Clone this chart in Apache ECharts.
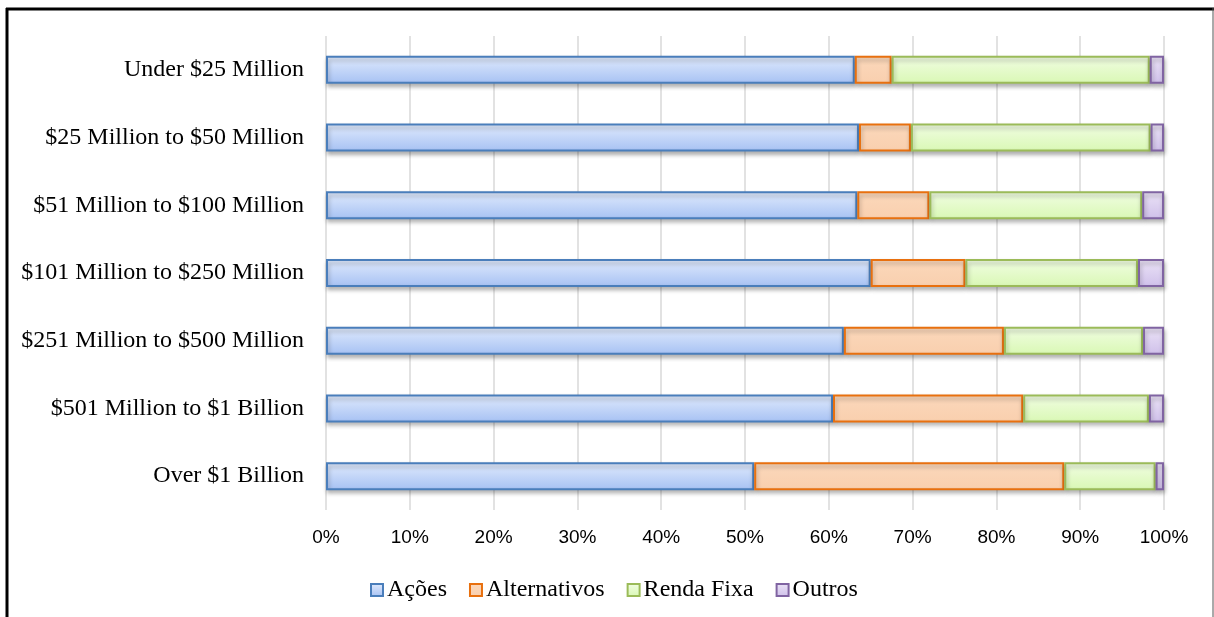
<!DOCTYPE html>
<html>
<head>
<meta charset="utf-8">
<script src="https://cdn.jsdelivr.net/npm/echarts@6/dist/echarts.min.js"></script>
<style>
html,body{margin:0;padding:0;background:#fff;}
#chart{width:1214px;height:617px;}
</style>
</head>
<body>
<div id="chart"></div>
<script>
const categories = [
  'Under $25 Million',
  '$25 Million to $50 Million',
  '$51 Million to $100 Million',
  '$101 Million to $250 Million',
  '$251 Million to $500 Million',
  '$501 Million to $1 Billion',
  'Over $1 Billion'
];
const acoes        = [63.1, 63.6, 63.4, 65.0, 61.8, 60.5, 51.1];
const alternativos = [4.4, 6.2, 8.6, 11.3, 19.1, 22.7, 37.0];
const rendaFixa    = [30.8, 28.6, 25.4, 20.6, 16.6, 15.0, 10.9];
const outros       = [1.7, 1.6, 2.6, 3.1, 2.5, 1.8, 1.0];
const xTicks = [0, 10, 20, 30, 40, 50, 60, 70, 80, 90, 100];

const serif = '"Liberation Serif", "Times New Roman", serif';
const sans = '"Liberation Sans", Arial, sans-serif';

function grad(top, bottom) {
  return new echarts.graphic.LinearGradient(0, 0, 0, 1, [
    {offset: 0, color: top}, {offset: 1, color: bottom}
  ]);
}
function mk(name, data, fillTop, fillBottom, border) {
  return {
    name: name,
    type: 'bar',
    stack: 'total',
    data: data,
    barWidth: 28,
    itemStyle: {
      color: grad(fillTop, fillBottom),
      borderColor: border,
      borderWidth: 2,
      shadowColor: 'rgba(0,0,0,0.28)',
      shadowBlur: 4,
      shadowOffsetX: 1,
      shadowOffsetY: 3
    },
    emphasis: {disabled: true}
  };
}

const chart = echarts.init(document.getElementById('chart'), null, {renderer: 'canvas'});
chart.setOption({
  animation: false,
  backgroundColor: '#fff',
  graphic: [
    {type: 'line', shape: {x1: 7, y1: 8, x2: 7, y2: 620}, style: {stroke: '#000', lineWidth: 3}, z: 100},
    {type: 'line', shape: {x1: 6, y1: 9, x2: 1214, y2: 9}, style: {stroke: '#000', lineWidth: 3}, z: 100},
    {type: 'line', shape: {x1: 1213, y1: 8, x2: 1213, y2: 620}, style: {stroke: '#555', lineWidth: 1}, z: 100}
  ],
  grid: {left: 326, right: 50, top: 36, bottom: 107, containLabel: false},
  legend: {
    left: 365,
    top: 573,
    icon: 'rect',
    itemWidth: 12,
    itemHeight: 12,
    itemGap: 22,
    textStyle: {fontFamily: serif, fontSize: 24, color: '#000', padding: [0, 0, 0, -1]},
    data: ['Ações', 'Alternativos', 'Renda Fixa', 'Outros']
  },
  xAxis: {
    type: 'value',
    min: 0, max: 100, interval: 10,
    axisLine: {show: false},
    axisTick: {show: false},
    splitLine: {show: true, lineStyle: {color: '#d9d9d9', width: 1.5}},
    axisLabel: {
      margin: 18,
      fontFamily: sans, fontSize: 19, color: '#000',
      formatter: function (v) { return xTicks.indexOf(v) >= 0 ? v + '%' : ''; }
    }
  },
  yAxis: {
    type: 'category',
    data: categories,
    inverse: true,
    axisLine: {show: false},
    axisTick: {show: false},
    axisLabel: {margin: 22, fontFamily: serif, fontSize: 24, color: '#000'}
  },
  series: [
    mk('Ações', acoes, '#e1ebfd', '#a6c1f3', '#4a7ebb'),
    mk('Alternativos', alternativos, '#fbd8bb', '#f9cfae', '#e8700f'),
    mk('Renda Fixa', rendaFixa, '#f1fde3', '#d9f8b4', '#9bbb59'),
    mk('Outros', outros, '#ebe3f6', '#cfc0ea', '#8064a2')
  ]
});
</script>
</body>
</html>
